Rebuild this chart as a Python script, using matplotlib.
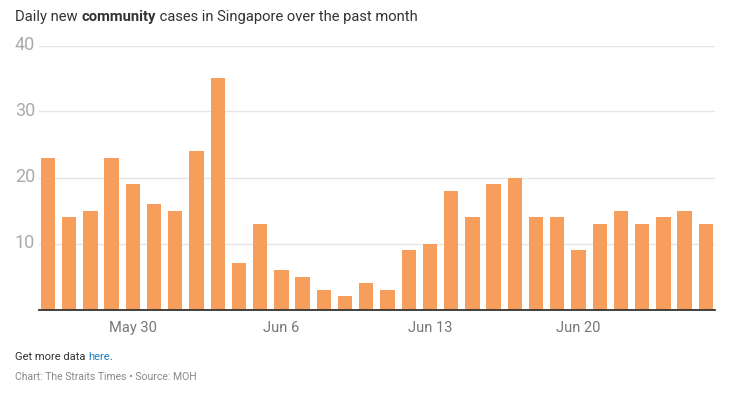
import matplotlib
matplotlib.use("Agg")
from matplotlib import pyplot as plt
from matplotlib import transforms
import pandas as pd

# data
dates = pd.date_range("2021-05-26", "2021-06-26", freq="D")
cases = [23, 14, 15, 23, 19, 16, 15, 24, 35, 7, 13, 6, 5, 3, 2, 4,
         3, 9, 10, 18, 14, 19, 20, 14, 14, 9, 13, 15, 13, 14, 15, 13]
tick_dates = ["2021-05-30", "2021-06-06", "2021-06-13", "2021-06-20"]
tick_labels = ["May 30", "Jun 6", "Jun 13", "Jun 20"]
y_ticks = [10, 20, 30, 40]

plt.rcParams["font.family"] = ["Roboto", "DejaVu Sans"]

fig = plt.figure(figsize=(7.46, 3.94), dpi=100)
ax = fig.add_axes([39 / 746, (394 - 309.5) / 394, (715 - 39) / 746, (309.5 - 45.5) / 394])

x = list(range(len(dates)))
ax.bar(x, cases, width=0.675, color="#F89E5C", zorder=2)

ax.set_ylim(0, 40)
ax.set_xlim(-0.42, len(dates) - 1 + 0.43)

# y labels sit left-aligned at the figure edge, gridlines span the axes
ax.set_yticks(y_ticks)
ax.set_yticklabels([])
ylab_tr = transforms.blended_transform_factory(fig.transFigure, ax.transData)
for v in y_ticks:
    ax.axhline(v, color="#e6e6e6", lw=1, zorder=1)
    ax.text(15 / 746, v, str(v), transform=ylab_tr,
            ha="left", va="center", fontsize=13, color="#aaaaaa")

pos = [list(dates).index(pd.Timestamp(d)) for d in tick_dates]
ax.set_xticks(pos)
ax.set_xticklabels(tick_labels, fontsize=10.5, color="#777777")
ax.tick_params(axis="both", length=0)
ax.tick_params(axis="x", pad=8)

for s in ["top", "right", "left"]:
    ax.spines[s].set_visible(False)
ax.spines["bottom"].set_color("#333333")
ax.spines["bottom"].set_linewidth(1.3)
ax.spines["bottom"].set_zorder(3)

# title with a bold word
renderer = fig.canvas.get_renderer()
parts = [("Daily new ", "normal"), ("community", "bold"),
         (" cases in Singapore over the past month", "normal")]
xp = 15
for txt, w in parts:
    t = fig.text(xp / 746, 1 - 17 / 394, txt, fontsize=10.6, fontweight=w, color="#333333",
                 va="center", ha="left")
    xp += t.get_window_extent(renderer).width

# footer
fy = 1 - 357 / 394
fig.text(15 / 746, fy, "Get more data", fontsize=8, color="#333333", va="center")
w1 = fig.text(0, 0, "Get more data ", fontsize=8, alpha=0).get_window_extent(renderer).width
w2 = fig.text(0, 0, "Get more data here", fontsize=8, alpha=0).get_window_extent(renderer).width
fig.text((15 + w1) / 746, fy, "here", fontsize=8, color="#1a7fc1", va="center")
fig.text((15 + w2 - 1) / 746, fy, ".", fontsize=8, color="#333333", va="center")
fig.text(15 / 746, 1 - 377 / 394, "Chart: The Straits Times \u2022 Source: MOH", fontsize=7.5,
         color="#888888", va="center")

fig.savefig("out.png", dpi=100)
